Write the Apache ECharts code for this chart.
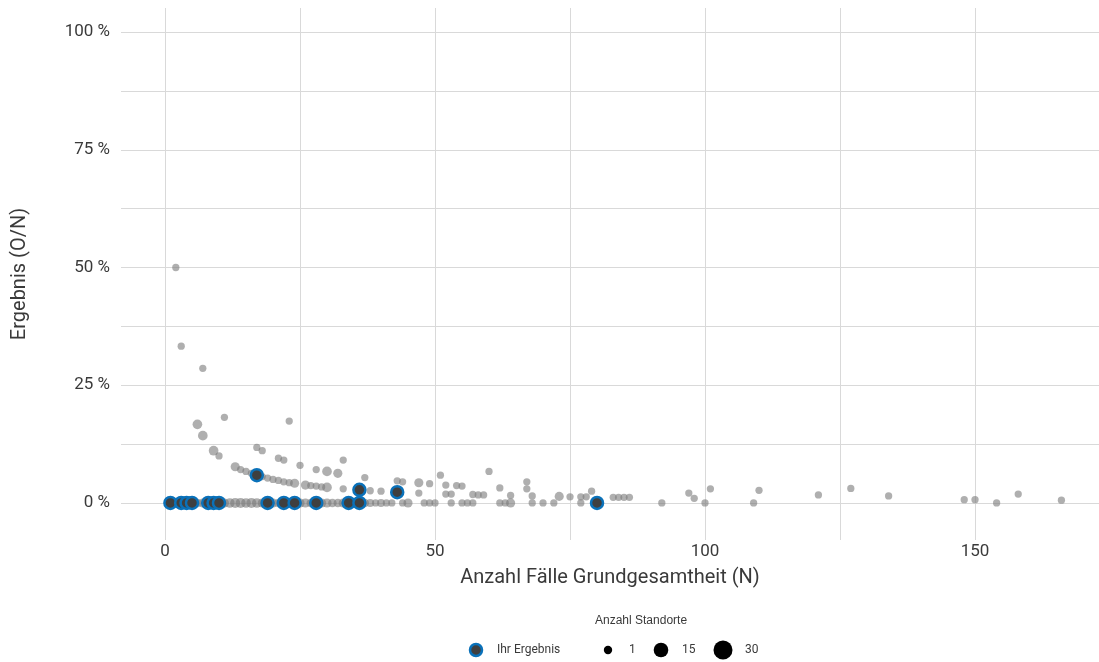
<!DOCTYPE html>
<html><head><meta charset="utf-8">
<script src="https://cdn.jsdelivr.net/npm/echarts@6/dist/echarts.min.js"></script>
<style>html,body{margin:0;padding:0;background:#fff}#c{width:1099px;height:662px}</style>
</head><body><div id="c"></div>
<script>
// Axis ticks / labels
const xTicks = [0, 25, 50, 75, 100, 125, 150];
const xLabels = [0, 50, 100, 150];
const yTicks = [0, 12.5, 25, 37.5, 50, 62.5, 75, 87.5, 100];
const yLabels = [0, 25, 50, 75, 100];

// Other locations: N (cases), result in %, number of sites (Anzahl Standorte)
const grayN = [
  2, 3, 7, 6, 7, 11, 9, 10, 13, 14, 15, 16, 17, 18, 19, 20, 21, 22, 23, 24, 26, 27, 28, 29, 30, 33, 36, 38, 40, 43, 47, 52, 53, 57, 58, 59, 64, 68, 73, 75, 77, 78, 83, 84, 85, 86, 98, 148, 150, 166,
  17, 18, 21, 22, 25, 28, 30, 32, 37, 43, 44, 47, 49, 52, 54, 55, 62, 67, 79, 97, 121, 134,
  23, 33, 51, 60, 67, 101, 110, 127, 158,
  1, 2, 3, 4, 5, 6, 7, 8, 9, 10, 11, 12, 13, 14, 15, 16, 17, 18, 19, 20, 21, 22, 23, 24, 25, 26, 27, 28, 29, 30, 31, 32, 33, 35, 37, 38, 39, 40, 41, 42, 44, 45, 48, 49, 50, 53, 55, 56, 57, 62, 63, 64, 68, 70, 72, 77, 92, 100, 109, 154
];
const grayPct = [
  50, 33.3, 28.6, 16.7, 14.3, 18.2, 11.1, 10.0, 7.7, 7.1, 6.7, 6.3, 5.9, 5.6, 5.3, 5.0, 4.8, 4.5, 4.3, 4.2, 3.8, 3.7, 3.6, 3.4, 3.3, 3.0, 2.8, 2.6, 2.5, 2.3, 2.1, 1.9, 1.9, 1.8, 1.7, 1.7, 1.6, 1.5, 1.4, 1.3, 1.3, 1.3, 1.2, 1.2, 1.2, 1.2, 1.0, 0.7, 0.7, 0.6,
  11.8, 11.1, 9.5, 9.1, 8.0, 7.1, 6.7, 6.3, 5.4, 4.7, 4.5, 4.3, 4.1, 3.8, 3.7, 3.6, 3.2, 3.0, 2.5, 2.1, 1.7, 1.5,
  17.4, 9.1, 5.9, 6.7, 4.5, 3.0, 2.7, 3.1, 1.9,
  0, 0, 0, 0, 0, 0, 0, 0, 0, 0, 0, 0, 0, 0, 0, 0, 0, 0, 0, 0, 0, 0, 0, 0, 0, 0, 0, 0, 0, 0, 0, 0, 0, 0, 0, 0, 0, 0, 0, 0, 0, 0, 0, 0, 0, 0, 0, 0, 0, 0, 0, 0, 0, 0, 0, 0, 0, 0, 0, 0
];
const grayCount = [
  1, 1, 1, 5, 5, 1, 5, 1, 4, 1, 1, 1, 1, 1, 1, 1, 1, 1, 1, 4, 4, 1, 1, 1, 5, 1, 1, 1, 1, 1, 1, 1, 1, 1, 1, 1, 1, 1, 4, 1, 1, 1, 1, 1, 1, 1, 1, 1, 1, 1,
  1, 1, 1, 1, 1, 1, 5, 4, 1, 1, 1, 4, 1, 1, 1, 1, 1, 1, 1, 1, 1, 1,
  1, 1, 1, 1, 1, 1, 1, 1, 1,
  4, 3, 3, 4, 3, 3, 4, 3, 4, 3, 4, 5, 6, 6, 5, 6, 5, 4, 3, 4, 3, 3, 4, 3, 4, 4, 3, 3, 4, 4, 3, 3, 4, 3, 3, 2, 1, 2, 1, 1, 1, 4, 1, 1, 1, 1, 1, 1, 1, 1, 1, 4, 1, 1, 1, 1, 1, 1, 1, 1
];

// "Ihr Ergebnis" (own results)
const blueN = [1, 3, 4, 5, 8, 9, 10, 19, 22, 24, 28, 34, 36, 80, 17, 36, 43];
const bluePct = [0, 0, 0, 0, 0, 0, 0, 0, 0, 0, 0, 0, 0, 0, 5.9, 2.8, 2.3];

const FONT = 'Roboto';
const TXT = '#3a3a3a';
const GRID = '#d9d9d9';
const BLUE = '#0a71b9';
const DARK = '#3f3f3f';

const grayData = grayN.map((n, i) => [n, grayPct[i], grayCount[i]]);
const blueData = blueN.map((n, i) => [n, bluePct[i]]);
const sizeOf = c => Math.sqrt(53 + 10.2 * (c - 1));

const chart = echarts.init(document.getElementById('c'), null, {renderer: 'canvas'});
chart.setOption({
  backgroundColor: '#fff',
  animation: false,
  textStyle: {fontFamily: FONT},
  grid: {left: 121, right: 0, top: 8, bottom: 122, containLabel: false},
  xAxis: {
    type: 'value', min: -8.15, max: 172.96,
    name: 'Anzahl Fälle Grundgesamtheit (N)', nameLocation: 'middle', nameGap: 28,
    nameTextStyle: {fontSize: 20, color: TXT, fontFamily: FONT},
    axisLine: {show: false},
    axisTick: {show: false, customValues: xTicks},
    axisLabel: {customValues: xLabels, fontSize: 17, color: TXT, margin: 3, fontFamily: FONT},
    splitLine: {show: true, lineStyle: {color: GRID, width: 1}}
  },
  yAxis: {
    type: 'value', min: -7.86, max: 105.1,
    name: 'Ergebnis (O/N)', nameLocation: 'middle', nameGap: 91, nameRotate: 90,
    nameTextStyle: {fontSize: 20, color: TXT, fontFamily: FONT},
    axisLine: {show: false},
    axisTick: {show: false, customValues: yTicks},
    axisLabel: {customValues: yLabels, fontSize: 17, color: TXT, margin: 11, fontFamily: FONT,
      formatter: v => v + ' %'},
    splitLine: {show: true, lineStyle: {color: GRID, width: 1}}
  },
  series: [
    {
      type: 'scatter', name: 'Standorte', data: grayData,
      symbolSize: v => sizeOf(v[2]),
      itemStyle: {color: '#7a7a7a', opacity: 0.6},
      silent: true, z: 2
    },
    {
      type: 'scatter', name: 'Ihr Ergebnis', data: blueData,
      symbolSize: 12,
      itemStyle: {color: DARK, borderColor: BLUE, borderWidth: 2.5, opacity: 1},
      silent: true, z: 3
    }
  ],
  graphic: [
    {type: 'text', left: 646 - 51, top: 615, style: {text: 'Anzahl Standorte', fontSize: 12, fill: TXT, font: '12px Roboto'}},
    {type: 'circle', shape: {cx: 476, cy: 650, r: 6}, style: {fill: DARK, stroke: BLUE, lineWidth: 2.5}},
    {type: 'text', x: 497, y: 650, style: {text: 'Ihr Ergebnis', font: '12px Roboto', fill: TXT, verticalAlign: 'middle'}},
    {type: 'circle', shape: {cx: 608, cy: 650, r: 4.2}, style: {fill: '#000'}},
    {type: 'text', x: 629, y: 650, style: {text: '1', font: '12px Roboto', fill: TXT, verticalAlign: 'middle'}},
    {type: 'circle', shape: {cx: 661, cy: 650, r: 7.3}, style: {fill: '#000'}},
    {type: 'text', x: 682, y: 650, style: {text: '15', font: '12px Roboto', fill: TXT, verticalAlign: 'middle'}},
    {type: 'circle', shape: {cx: 723, cy: 650, r: 9.5}, style: {fill: '#000'}},
    {type: 'text', x: 745, y: 650, style: {text: '30', font: '12px Roboto', fill: TXT, verticalAlign: 'middle'}}
  ]
});
</script>
</body></html>
